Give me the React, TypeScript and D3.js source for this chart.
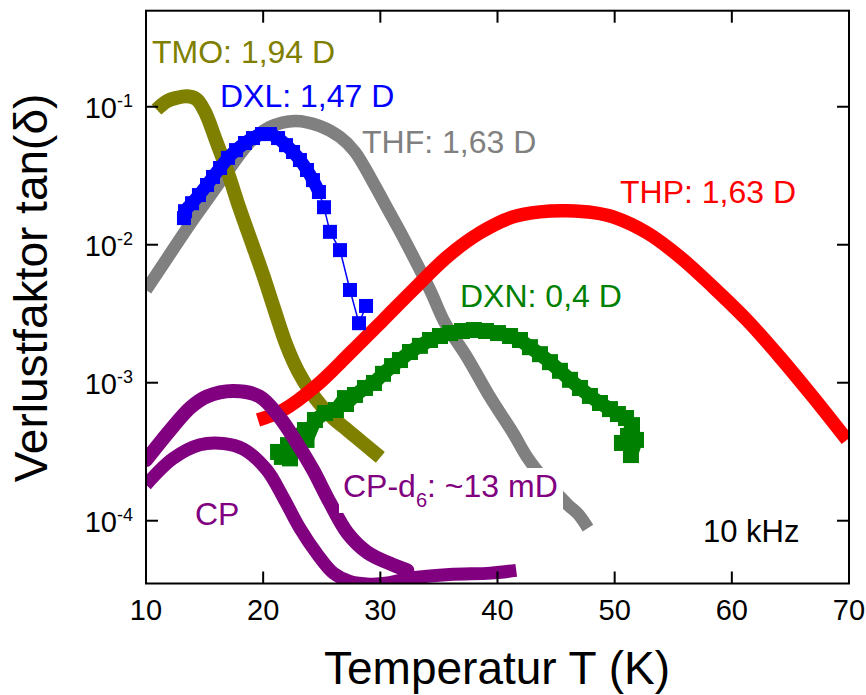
import React from 'react';
import * as d3 from 'd3';

// Loss tangent tan(δ) of several glass formers versus temperature, measured at 10 kHz.

const W = 866;
const H = 695;
const X0 = 146;
const X1 = 849;
const Y0 = 10.7;
const Y1 = 583.5;

const FONT = '"Liberation Sans", Arial, Helvetica, sans-serif';

const xTicks = [10, 20, 30, 40, 50, 60, 70];
const yTickExps = [-1, -2, -3, -4];

// THF
const thfT = [10.0, 11.88, 13.76, 15.46, 17.17, 18.88, 20.58, 22.72, 24.85, 26.56, 27.84, 29.37, 30.57, 31.93, 34.24, 35.52, 37.4, 39.36, 41.32, 42.52, 44.05, 46.02, 46.87, 47.72];
const thfV = [4.7e-3, 8.15e-3, 1.41e-2, 2.25e-2, 3.6e-2, 5.55e-2, 7.13e-2, 7.89e-2, 7.24e-2, 6.03e-2, 4.7e-2, 2.84e-2, 1.85e-2, 1.14e-2, 4.7e-3, 2.71e-3, 1.53e-3, 7.87e-4, 4.33e-4, 2.9e-4, 1.97e-4, 1.3e-4, 1.12e-4, 8.85e-5];

// TMO
const tmoT = [10.9, 11.8, 12.6, 13.5, 14.3, 15.0, 16.0, 17.0, 18.0, 19.0, 20.0, 21.0, 22.0, 23.0, 24.0, 25.0, 26.0, 27.0, 28.0, 29.0, 30.0];
const tmoV = [9.55e-2, 0.11, 0.116, 0.119, 0.1135, 9.3e-2, 5.62e-2, 3.31e-2, 1.82e-2, 1.05e-2, 6.03e-3, 3.31e-3, 1.86e-3, 1.2e-3, 8.71e-4, 6.76e-4, 5.5e-4, 4.68e-4, 3.98e-4, 3.39e-4, 2.88e-4];

// THP
const thpT = [19.56, 21.69, 24.59, 27.41, 30.23, 32.79, 35.69, 38.51, 41.32, 43.63, 45.93, 48.32, 49.86, 52.76, 55.57, 58.39, 61.29, 64.11, 66.93, 69.83];
const thpV = [5.37e-4, 6.34e-4, 9.62e-4, 1.64e-3, 2.84e-3, 4.7e-3, 8.15e-3, 1.22e-2, 1.59e-2, 1.73e-2, 1.76e-2, 1.7e-2, 1.59e-2, 1.22e-2, 8.15e-3, 4.94e-3, 2.84e-3, 1.53e-3, 7.87e-4, 3.85e-4];

// DXN (scattered points)
const dxnT = [21.27, 21.6, 22.12, 22.29, 22.8, 23.57, 23.7, 24.42, 25.28, 26.21, 26.98, 27.07, 27.84, 28.69, 29.46, 30.23, 31.0, 31.68, 32.53, 33.38, 34.24, 35.09, 35.95, 36.97, 37.99, 39.02, 40.04, 41.07, 41.92, 42.77, 43.63, 44.48, 45.33, 46.19, 47.04, 47.89, 48.75, 49.6, 50.28, 50.97, 51.48, 51.14, 50.62, 51.82, 51.39];
const dxnV = [3.15e-4, 2.9e-4, 3.53e-4, 2.83e-4, 4.05e-4, 4.54e-4, 3.85e-4, 5.37e-4, 6.03e-4, 6.34e-4, 7.74e-4, 7.01e-4, 8.15e-4, 9.16e-4, 9.96e-4, 1.16e-3, 1.32e-3, 1.46e-3, 1.67e-3, 1.85e-3, 2.04e-3, 2.18e-3, 2.29e-3, 2.37e-3, 2.41e-3, 2.37e-3, 2.29e-3, 2.18e-3, 2.04e-3, 1.81e-3, 1.61e-3, 1.41e-3, 1.22e-3, 1.05e-3, 9.16e-4, 8.02e-4, 7.13e-4, 6.44e-4, 5.93e-4, 5.55e-4, 4.93e-4, 4.11e-4, 3.66e-4, 3.85e-4, 2.99e-4];

// DXL
const dxlT = [13.24, 13.33, 13.93, 14.52, 15.21, 15.72, 16.32, 17.0, 17.68, 18.45, 19.13, 19.9, 20.58, 21.27, 21.95, 22.55, 23.14, 23.74, 24.25, 24.76, 25.19, 25.7, 26.56, 27.41, 28.18, 28.78];
const dxlV = [1.56e-2, 1.75e-2, 2.0e-2, 2.29e-2, 2.71e-2, 3.1e-2, 3.6e-2, 4.26e-2, 4.85e-2, 5.46e-2, 5.93e-2, 6.34e-2, 6.34e-2, 5.93e-2, 5.27e-2, 4.7e-2, 4.11e-2, 3.48e-2, 2.94e-2, 2.41e-2, 1.87e-2, 1.24e-2, 9.14e-3, 4.7e-3, 2.7e-3, 3.6e-3];

// CP
const cpT = [10.0, 12.3, 14.6, 16.6, 18.3, 20.3, 21.7, 23.1, 24.6, 26.0, 27.4, 29.1, 30.8, 32.3, 35.9, 39.4, 41.6];
const cpV = [1.82e-4, 2.82e-4, 3.55e-4, 3.63e-4, 3.31e-4, 2.34e-4, 1.48e-4, 8.91e-5, 5.75e-5, 4.17e-5, 3.63e-5, 3.47e-5, 3.55e-5, 3.8e-5, 4.07e-5, 4.17e-5, 4.37e-5];

// CP-d6
const cpd6T = [10.0, 12.3, 13.8, 15.2, 17.4, 19.7, 21.4, 22.9, 24.25, 25.7, 27.2, 28.9, 30.8, 32.3];
const cpd6V = [2.75e-4, 4.79e-4, 6.61e-4, 7.94e-4, 8.71e-4, 7.94e-4, 5.62e-4, 3.63e-4, 2.34e-4, 1.35e-4, 8.13e-5, 5.89e-5, 4.9e-5, 4.37e-5];

const zip = (t: number[], v: number[]): [number, number][] => t.map((tt, i) => [tt, v[i]]);

export default function App() {
  const x = d3.scaleLinear().domain([10, 70]).range([X0, X1]);
  const y = d3.scaleLog().domain([Math.pow(10, -4.455), Math.pow(10, -0.304)]).range([Y1, Y0]);

  const smooth = d3
    .line<[number, number]>()
    .x((d) => x(d[0]))
    .y((d) => y(d[1]))
    .curve(d3.curveCatmullRom.alpha(0.5));
  const straight = d3
    .line<[number, number]>()
    .x((d) => x(d[0]))
    .y((d) => y(d[1]));

  const bands = [
    { key: 'thf', data: zip(thfT, thfV), color: '#808080', width: 12.5 },
    { key: 'tmo', data: zip(tmoT, tmoV), color: '#808000', width: 14 },
    { key: 'thp', data: zip(thpT, thpV), color: '#ff0000', width: 13.5 },
  ];

  const dxn = zip(dxnT, dxnV);
  const dxl = zip(dxlT, dxlV);
  const cp = zip(cpT, cpV);
  const cpd6 = zip(cpd6T, cpd6V);
  // the first DXL points lie so close that their markers merge into a band
  const dxlDense = dxl.slice(0, 20);

  return (
    <svg
      width={W}
      height={H}
      viewBox={`0 0 ${W} ${H}`}
      style={{ position: 'absolute', left: 0, top: 0, background: '#fff' }}
      fontFamily={FONT}
    >
      <defs>
        <clipPath id="plotArea">
          <rect x={X0} y={Y0} width={X1 - X0} height={Y1 - Y0} />
        </clipPath>
      </defs>
      <rect x={0} y={0} width={W} height={H} fill="#fff" />

      <g clipPath="url(#plotArea)">
        {bands.map((b) => (
          <path key={b.key} d={smooth(b.data) || ''} fill="none" stroke={b.color} strokeWidth={b.width} />
        ))}

        {/* DXN: noisy square markers */}
        <path d={straight(dxn) || ''} fill="none" stroke="#008000" strokeWidth={14} strokeLinejoin="round" />
        {dxn.map((d, i) => (
          <rect key={`dxn${i}`} x={x(d[0]) - 8} y={y(d[1]) - 8} width={16} height={16} fill="#008000" />
        ))}

        {/* DXL: squares joined by a thin line */}
        <path d={straight(dxl) || ''} fill="none" stroke="#0000ff" strokeWidth={1.5} />
        <path d={smooth(dxlDense) || ''} fill="none" stroke="#0000ff" strokeWidth={13} />
        {dxl.map((d, i) => (
          <rect key={`dxl${i}`} x={x(d[0]) - 7} y={y(d[1]) - 7} width={14} height={14} fill="#0000ff" />
        ))}

        <path d={smooth(cp) || ''} fill="none" stroke="#800080" strokeWidth={13} />
        <path d={smooth(cpd6) || ''} fill="none" stroke="#800080" strokeWidth={14} strokeLinecap="round" />
      </g>

      {/* series labels */}
      <g fontSize={32}>
        <text x={152} y={63} fill="#808000">TMO: 1,94 D</text>
        <text x={220} y={107} fill="#0000ff">DXL: 1,47 D</text>
        <text x={362} y={153} fill="#808080">THF: 1,63 D</text>
        <text x={620} y={203} fill="#ff0000">THP: 1,63 D</text>
        <text x={460} y={307} fill="#008000">DXN: 0,4 D</text>
        <text x={195} y={525} fill="#800080">CP</text>
        <rect x={339} y={468} width={224} height={45} fill="#fff" />
        <text x={343} y={497} fill="#800080">
          CP-d
          <tspan fontSize={20} dy={10}>6</tspan>
          <tspan dy={-10}>: ~13 mD</tspan>
        </text>
        <text x={703} y={542} fill="#000" fontSize={31}>10 kHz</text>
      </g>

      {/* frame */}
      <rect x={X0} y={Y0} width={X1 - X0} height={Y1 - Y0} fill="none" stroke="#000" strokeWidth={2} />

      {/* x ticks */}
      {xTicks.map((t) => (
        <g key={`xt${t}`}>
          <line x1={x(t)} x2={x(t)} y1={Y1} y2={Y1 - 12} stroke="#000" strokeWidth={2} />
          <line x1={x(t)} x2={x(t)} y1={Y0} y2={Y0 + 12} stroke="#000" strokeWidth={2} />
          <text x={x(t)} y={620} textAnchor="middle" fontSize={29} fill="#000">
            {t}
          </text>
        </g>
      ))}

      {/* y ticks */}
      {yTickExps.map((e) => {
        const yy = y(Math.pow(10, e));
        return (
          <g key={`yt${e}`}>
            <line x1={X0} x2={X0 + 12} y1={yy} y2={yy} stroke="#000" strokeWidth={2} />
            <line x1={X1} x2={X1 - 12} y1={yy} y2={yy} stroke="#000" strokeWidth={2} />
            <text x={133} y={yy + 11.5} textAnchor="end" fontSize={29} fill="#000">
              10
              <tspan fontSize={18} dy={-11}>{`-${-e}`}</tspan>
            </text>
          </g>
        );
      })}

      {/* axis titles */}
      <text x={497} y={684} textAnchor="middle" fontSize={46} fill="#000">
        Temperatur T (K)
      </text>
      <text
        transform={`translate(47, 288) rotate(-90)`}
        textAnchor="middle"
        fontSize={46}
        fill="#000"
      >
        Verlustfaktor tan(δ)
      </text>
    </svg>
  );
}
